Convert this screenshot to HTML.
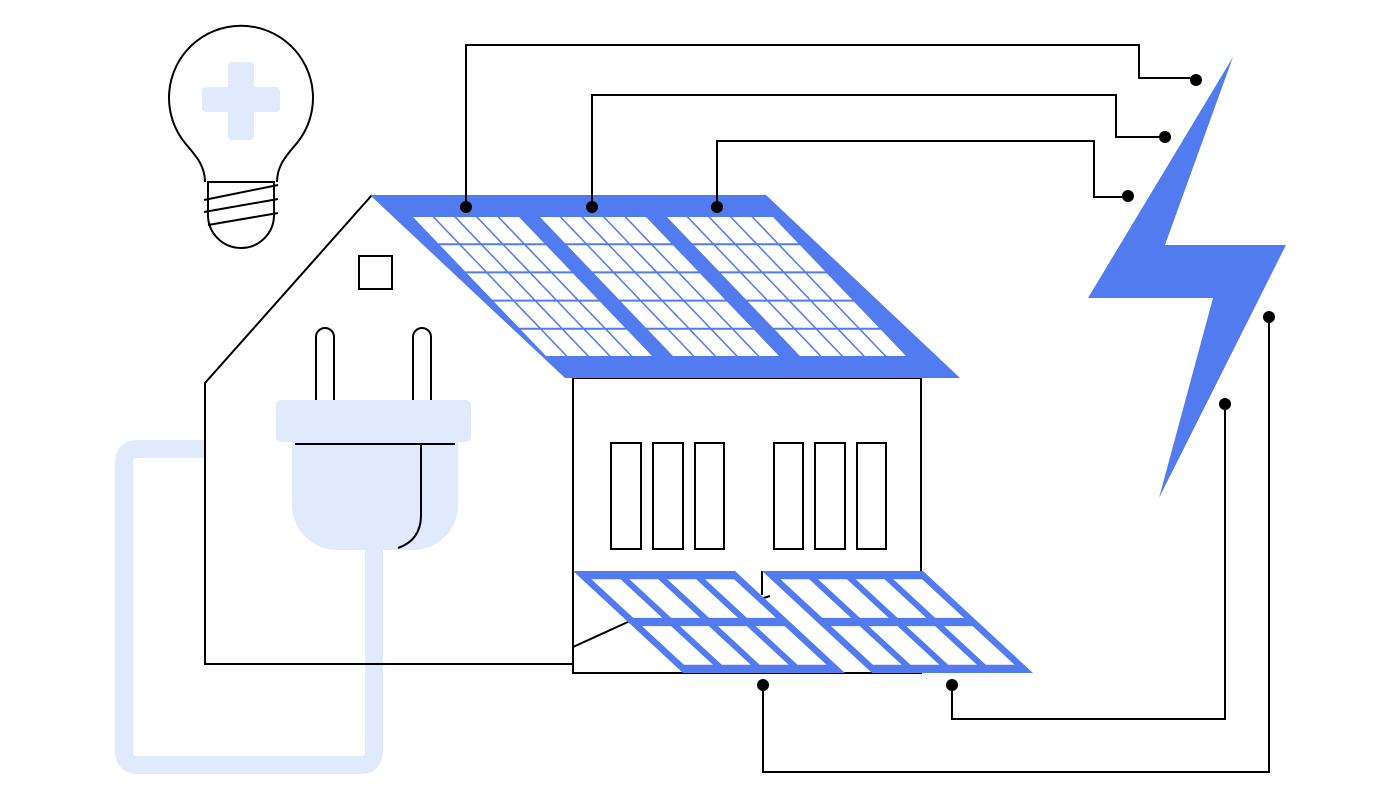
<!DOCTYPE html>
<html><head><meta charset="utf-8"><style>html,body{margin:0;padding:0;background:#fff;}svg{display:block}</style></head>
<body>
<svg id="s" width="1400" height="800" viewBox="0 0 1400 800" xmlns="http://www.w3.org/2000/svg">
<g fill="none" stroke="#000" stroke-width="2">
<path d="M205,182 C205,165 195,155 185,143 A72,72 0 1 1 297,143 C287,155 277,165 277,182"/>
<path d="M208,182 L208,215 A33,33 0 0 0 274,215 L274,182 Z"/>
<line x1="204" y1="200" x2="278" y2="185"/>
<line x1="204" y1="212" x2="278" y2="199"/>
<line x1="208" y1="225" x2="278" y2="213"/>
</g>
<g fill="#e1e9fc"><rect x="228" y="62" width="26" height="78" rx="4"/><rect x="202" y="87" width="78" height="25" rx="4"/></g>
<path d="M205,449 H138 Q124,449 124,463 V751 Q124,765 138,765 H360 Q374,765 374,751 V548" fill="none" stroke="#e1e9fc" stroke-width="18"/>
<g fill="none" stroke="#000" stroke-width="2">
<polyline points="372,195 205,383 205,664 573,664"/>
<rect x="359" y="256" width="33" height="33"/>
<rect x="573" y="378" width="348" height="295"/>
<rect x="611" y="443" width="30" height="106"/>
<rect x="653" y="443" width="30" height="106"/>
<rect x="695" y="443" width="29" height="106"/>
<rect x="774" y="443" width="29" height="106"/>
<rect x="815" y="443" width="30" height="106"/>
<rect x="857" y="443" width="29" height="106"/>
<line x1="573" y1="647" x2="630" y2="621"/>
<line x1="762" y1="571" x2="762" y2="595"/>
<line x1="720" y1="612" x2="770" y2="596"/>
</g>
<rect x="316" y="328" width="18" height="80" rx="9" fill="#fff" stroke="#000" stroke-width="2"/>
<rect x="413" y="328" width="18" height="80" rx="9" fill="#fff" stroke="#000" stroke-width="2"/>
<rect x="276" y="400" width="195" height="42" rx="5" fill="#e1e9fc"/>
<path d="M292,442 H458 V505 A45,45 0 0 1 413,550 H337 A45,45 0 0 1 292,505 Z" fill="#e1e9fc"/>
<g fill="none" stroke="#000" stroke-width="2">
<line x1="295" y1="444" x2="455" y2="444"/>
<path d="M421,444 V515 Q421,540 398,548"/>
</g>
<polygon points="370,195 766,195 960,378 565,378" fill="#527bf0"/>
<g id="cells" fill="#fff"></g>
<polygon points="1233,57 1165,245 1286,245 1159,498 1213,298 1088,298" fill="#527bf0"/>
<g fill="none" stroke="#000" stroke-width="2">
<polyline points="466,207 466,45 1139,45 1139,78 1196,78"/>
<polyline points="592,207 592,95 1116,95 1116,137 1165,137"/>
<polyline points="717,207 717,141 1094,141 1094,197 1128,197"/>
<polyline points="1269,317 1269,772 763,772 763,685"/>
<polyline points="1225,404 1225,719 952,719 952,685"/>
</g>
<g fill="#000">
<circle cx="466" cy="207" r="6"/><circle cx="592" cy="207" r="6"/><circle cx="717" cy="207" r="6"/>
<circle cx="1196" cy="80" r="6"/><circle cx="1165" cy="137" r="6"/><circle cx="1128" cy="196" r="6"/>
<circle cx="1269" cy="317" r="6"/><circle cx="1225" cy="404" r="6"/><circle cx="763" cy="685" r="6"/><circle cx="952" cy="685" r="6"/>
</g>
<g id="bp"></g>
</svg>
<script>
var NS="http://www.w3.org/2000/svg";
function poly(g,pts,fill){var p=document.createElementNS(NS,"polygon");p.setAttribute("points",pts.map(function(a){return a[0].toFixed(1)+","+a[1].toFixed(1)}).join(" "));p.setAttribute("fill",fill);g.appendChild(p);}
function panel(g,x0,y0,W,H,s,rows,cols,bu,bv,gu,gv,outer){
 function P(u,v){return [x0+u*W+v*s,y0+v*H];}
 if(outer) poly(g,[P(0,0),P(1,0),P(1,1),P(0,1)],"#527bf0");
 var cw=(1-2*bu-(cols-1)*gu)/cols, rh=(1-2*bv-(rows-1)*gv)/rows;
 for(var r=0;r<rows;r++)for(var c=0;c<cols;c++){
  var u0=bu+c*(cw+gu),v0=bv+r*(rh+gv);
  poly(g,[P(u0,v0),P(u0+cw,v0),P(u0+cw,v0+rh),P(u0,v0+rh)],"#fff");
 }
}
var cg=document.getElementById("cells");
[413,540,667].forEach(function(x){panel(cg,x,217,106,139,133,5,5,0,0,0.02,0.014,false);});
var bp=document.getElementById("bp");
panel(bp,573,571,162,102,110,2,4,0.06,0.08,0.055,0.08,true);
panel(bp,762,571,161,102,110,2,4,0.06,0.08,0.055,0.08,true);
</script>
</body></html>
